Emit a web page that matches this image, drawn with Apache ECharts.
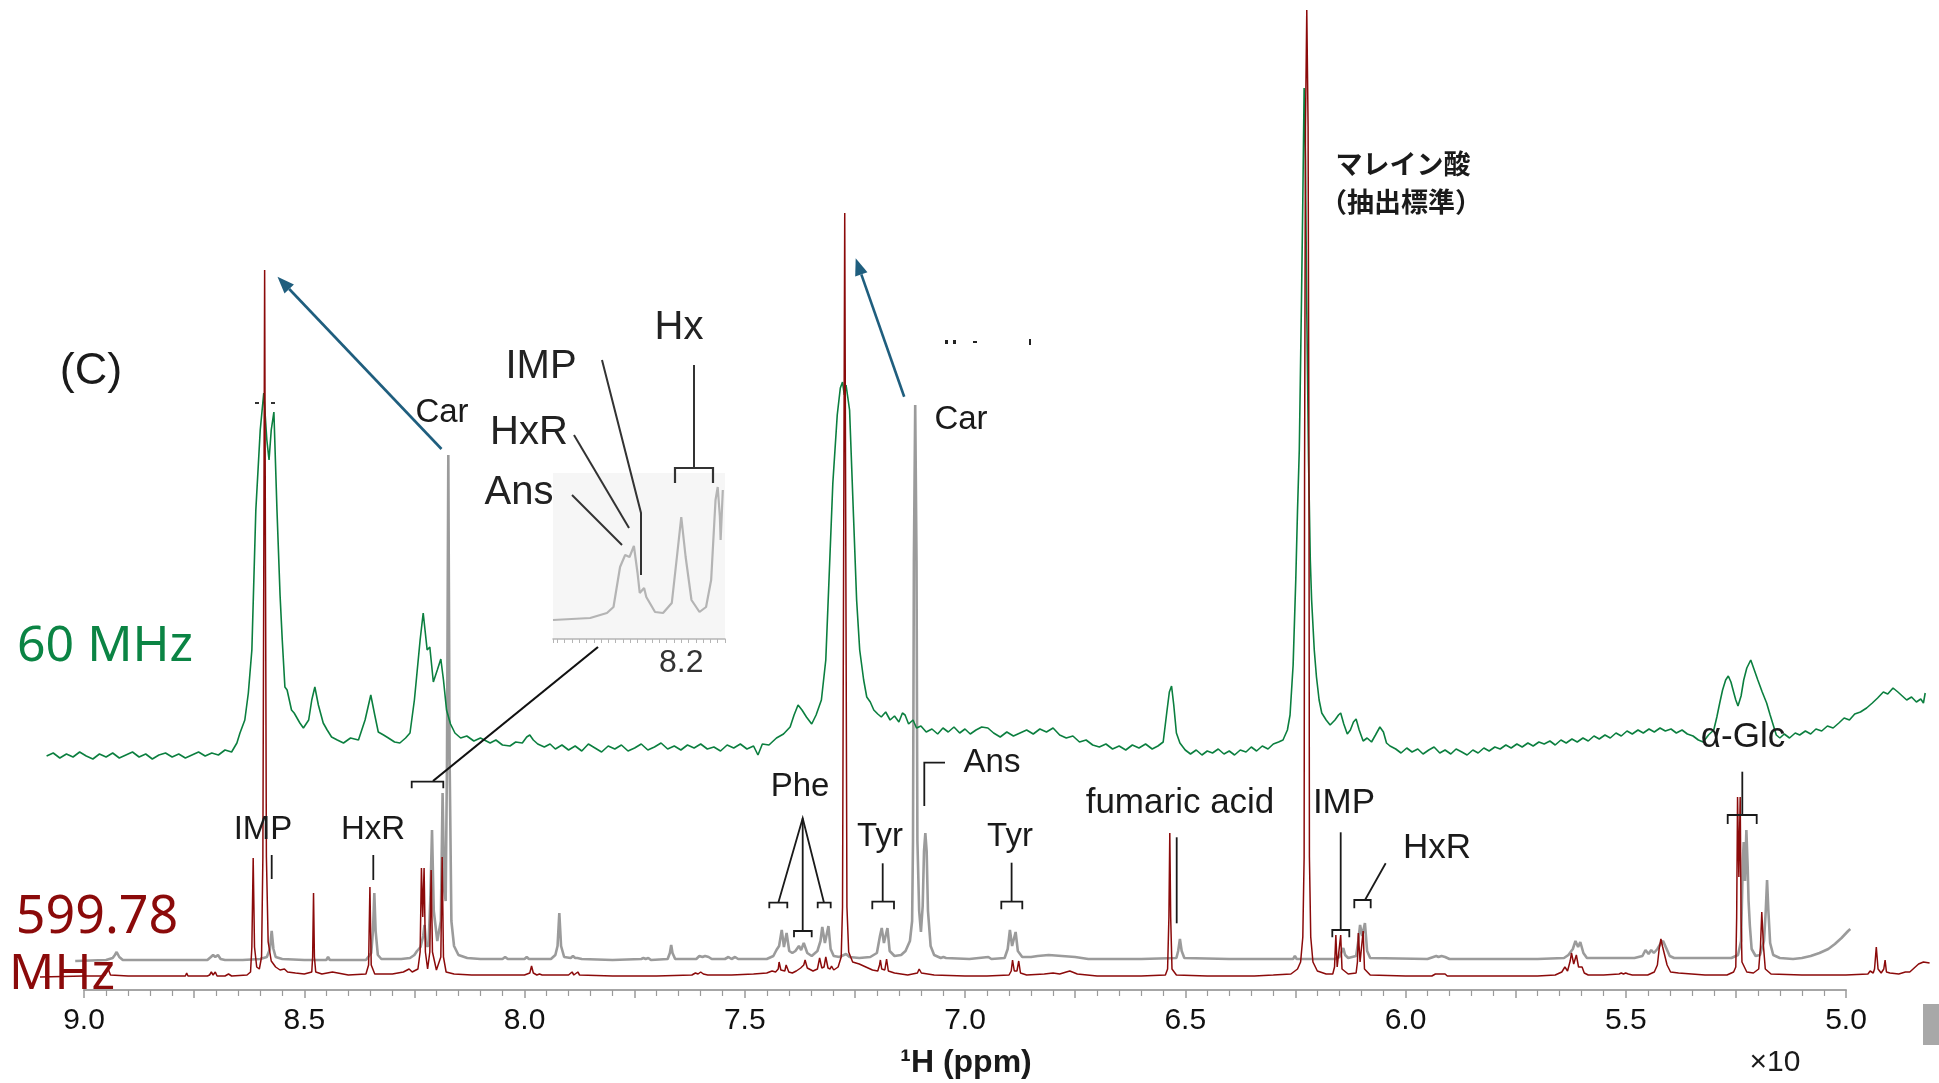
<!DOCTYPE html>
<html><head><meta charset="utf-8">
<script src="https://cdn.jsdelivr.net/npm/echarts@6/dist/echarts.min.js"></script>
<style>html,body{margin:0;padding:0;background:#fff}#c{width:1939px;height:1083px}</style>
</head><body><div id="c"></div>
<script>
// ---- data (ppm, intensity above each trace's own baseline) ----
const xTickLabels = ['9.0','8.5','8.0','7.5','7.0','6.5','6.0','5.5','5.0'];
const redSpectrum = [[9.100,0],[9.000,1],[8.960,1],[8.952,2],[8.946,9],[8.940,2],[8.900,1],[8.800,1],[8.770,1],[8.767,4],[8.764,1],[8.720,1],[8.715,2],[8.711,5],[8.707,2],[8.702,5],[8.698,1],[8.680,1],[8.672,3],[8.665,1],[8.630,2],[8.622,5],[8.619,30],[8.616,119],[8.613,30],[8.608,10],[8.602,8],[8.597,20],[8.594,120],[8.592,400],[8.590,707],[8.588,400],[8.586,120],[8.582,35],[8.575,16],[8.565,10],[8.555,7],[8.545,8],[8.538,5],[8.520,4],[8.500,3],[8.483,5],[8.481,20],[8.479,84],[8.477,20],[8.474,5],[8.460,3],[8.436,5],[8.432,3],[8.400,2],[8.360,3],[8.354,12],[8.351,90],[8.348,12],[8.340,3],[8.300,3],[8.275,5],[8.262,8],[8.255,5],[8.242,8],[8.237,25],[8.234,109],[8.231,60],[8.228,109],[8.225,25],[8.220,8],[8.215,25],[8.212,107],[8.209,25],[8.200,7],[8.190,20],[8.187,120],[8.184,20],[8.178,5],[8.160,3],[8.120,2],[8.060,2],[8.000,2],[7.988,4],[7.984,11],[7.980,4],[7.972,2],[7.966,3],[7.960,2],[7.900,2],[7.892,5],[7.888,2],[7.879,5],[7.875,2],[7.800,1],[7.700,1],[7.620,2],[7.612,4],[7.606,3],[7.600,5],[7.594,3],[7.590,4],[7.584,2],[7.530,2],[7.480,3],[7.450,4],[7.438,6],[7.435,8],[7.430,5],[7.424,8],[7.422,15],[7.418,7],[7.409,6],[7.406,12],[7.400,5],[7.392,4],[7.383,6],[7.380,8],[7.373,9],[7.366,12],[7.363,17],[7.358,9],[7.345,6],[7.335,8],[7.330,19],[7.325,9],[7.320,10],[7.316,20],[7.311,9],[7.306,8],[7.303,11],[7.298,7],[7.288,10],[7.281,20],[7.278,70],[7.276,350],[7.273,764],[7.270,350],[7.268,70],[7.264,25],[7.255,15],[7.240,13],[7.225,10],[7.210,7],[7.198,6],[7.194,12],[7.192,17],[7.189,8],[7.182,7],[7.178,18],[7.174,6],[7.160,4],[7.130,2],[7.108,4],[7.104,8],[7.099,4],[7.070,2],[7.000,1],[6.950,1],[6.900,2],[6.895,6],[6.892,17],[6.888,6],[6.882,6],[6.878,16],[6.874,4],[6.860,2],[6.820,3],[6.800,4],[6.785,3],[6.770,5],[6.762,6],[6.745,3],[6.700,1],[6.600,1],[6.545,2],[6.540,8],[6.537,60],[6.535,144],[6.533,60],[6.530,8],[6.520,2],[6.450,1],[6.366,1],[6.364,3],[6.361,1],[6.348,1],[6.346,3],[6.343,1],[6.300,2],[6.260,3],[6.245,8],[6.238,15],[6.233,40],[6.230,120],[6.229,500],[6.227,850],[6.224,967],[6.221,850],[6.219,500],[6.218,120],[6.215,40],[6.210,15],[6.200,6],[6.180,3],[6.165,3],[6.161,10],[6.158,42],[6.155,10],[6.151,10],[6.147,42],[6.144,8],[6.130,3],[6.112,4],[6.109,15],[6.107,44],[6.103,15],[6.099,16],[6.096,46],[6.093,8],[6.080,2],[6.000,1],[5.940,1],[5.932,3],[5.928,1],[5.922,3],[5.918,1],[5.910,3],[5.905,1],[5.800,1],[5.700,1],[5.660,2],[5.645,5],[5.638,10],[5.632,6],[5.626,16],[5.623,24],[5.618,13],[5.612,22],[5.607,10],[5.603,8],[5.599,10],[5.594,4],[5.585,2],[5.550,2],[5.515,3],[5.510,4],[5.505,3],[5.500,4],[5.494,3],[5.490,4],[5.485,2],[5.450,2],[5.435,5],[5.428,12],[5.424,28],[5.420,38],[5.416,30],[5.412,29],[5.406,12],[5.398,5],[5.380,4],[5.320,2],[5.270,2],[5.255,5],[5.250,10],[5.248,60],[5.246,180],[5.243,100],[5.240,180],[5.238,60],[5.236,15],[5.225,5],[5.210,4],[5.198,8],[5.194,30],[5.191,65],[5.187,30],[5.183,8],[5.170,3],[5.100,2],[5.000,2],[4.950,3],[4.945,6],[4.942,8],[4.938,4],[4.935,8],[4.931,30],[4.927,8],[4.920,4],[4.914,8],[4.911,17],[4.908,5],[4.900,4],[4.880,3],[4.865,5],[4.855,5],[4.845,9],[4.835,13],[4.824,15],[4.810,14]];
const graySpectrum = [[9.020,0],[8.950,1],[8.935,3],[8.930,6],[8.926,9],[8.920,4],[8.912,1],[8.800,1],[8.720,1],[8.712,4],[8.707,6],[8.702,4],[8.696,6],[8.690,2],[8.680,1],[8.640,1],[8.600,2],[8.585,4],[8.578,12],[8.574,30],[8.570,12],[8.565,4],[8.550,2],[8.500,1],[8.450,1],[8.446,4],[8.442,1],[8.360,1],[8.348,8],[8.344,30],[8.341,68],[8.338,30],[8.333,6],[8.325,2],[8.280,2],[8.260,3],[8.250,6],[8.244,10],[8.236,14],[8.230,25],[8.227,36],[8.223,15],[8.218,15],[8.214,60],[8.210,131],[8.206,50],[8.198,20],[8.190,40],[8.186,168],[8.182,70],[8.179,60],[8.176,200],[8.173,506],[8.170,200],[8.166,40],[8.160,15],[8.150,6],[8.130,3],[8.100,2],[8.050,2],[8.044,4],[8.038,2],[8.000,2],[7.995,4],[7.990,2],[7.940,2],[7.930,6],[7.925,15],[7.921,48],[7.917,15],[7.910,4],[7.895,3],[7.890,5],[7.885,3],[7.880,3],[7.876,5],[7.870,2],[7.800,1],[7.735,2],[7.730,3],[7.725,2],[7.719,3],[7.713,1],[7.675,2],[7.670,8],[7.667,16],[7.664,8],[7.658,2],[7.610,2],[7.603,5],[7.596,4],[7.590,5],[7.582,4],[7.575,2],[7.545,2],[7.537,4],[7.530,2],[7.522,4],[7.515,2],[7.450,2],[7.435,5],[7.428,11],[7.422,15],[7.416,31],[7.411,14],[7.405,28],[7.399,10],[7.392,8],[7.385,10],[7.377,15],[7.372,11],[7.366,18],[7.358,8],[7.348,5],[7.335,10],[7.328,20],[7.324,34],[7.318,18],[7.310,35],[7.305,12],[7.298,5],[7.285,4],[7.270,7],[7.262,4],[7.240,3],[7.215,4],[7.200,8],[7.193,25],[7.189,33],[7.184,18],[7.180,20],[7.176,33],[7.171,10],[7.160,5],[7.145,6],[7.135,10],[7.125,20],[7.120,40],[7.118,120],[7.116,400],[7.113,556],[7.110,400],[7.108,120],[7.104,50],[7.100,29],[7.096,55],[7.093,110],[7.090,128],[7.087,110],[7.084,50],[7.078,15],[7.070,6],[7.055,3],[7.049,4],[7.043,3],[6.990,2],[6.947,4],[6.940,2],[6.910,3],[6.903,12],[6.898,31],[6.893,15],[6.890,14],[6.885,29],[6.880,10],[6.870,4],[6.850,4],[6.835,5],[6.810,6],[6.780,5],[6.750,4],[6.720,2],[6.600,2],[6.520,3],[6.516,10],[6.512,22],[6.508,10],[6.502,3],[6.400,2],[6.255,2],[6.251,5],[6.247,2],[6.160,2],[6.150,4],[6.145,9],[6.141,13],[6.137,6],[6.130,3],[6.112,5],[6.107,20],[6.103,36],[6.098,25],[6.092,38],[6.087,10],[6.080,3],[5.950,2],[5.930,5],[5.925,4],[5.918,5],[5.910,4],[5.900,2],[5.700,2],[5.640,3],[5.630,6],[5.626,8],[5.620,12],[5.614,20],[5.608,14],[5.603,19],[5.596,8],[5.588,3],[5.480,3],[5.462,5],[5.455,11],[5.448,7],[5.442,11],[5.436,8],[5.428,12],[5.420,18],[5.415,20],[5.409,14],[5.400,5],[5.390,3],[5.340,3],[5.320,3],[5.260,3],[5.245,6],[5.238,20],[5.234,100],[5.232,119],[5.229,80],[5.226,131],[5.223,94],[5.221,60],[5.218,35],[5.214,12],[5.205,5],[5.195,6],[5.186,20],[5.182,50],[5.179,81],[5.176,50],[5.172,18],[5.165,6],[5.150,3],[5.120,2],[5.100,3],[5.080,5],[5.060,8],[5.040,12],[5.025,17],[5.010,23],[4.995,30],[4.990,32]];
const greenSpectrum = [[9.085,4],[9.070,7],[9.055,2],[9.040,6],[9.025,3],[9.010,8],[8.995,4],[8.980,1],[8.965,6],[8.950,3],[8.935,7],[8.920,2],[8.905,5],[8.890,8],[8.875,3],[8.860,6],[8.845,1],[8.830,5],[8.815,7],[8.800,3],[8.785,6],[8.770,2],[8.755,5],[8.740,8],[8.725,4],[8.710,7],[8.695,5],[8.680,10],[8.665,8],[8.653,17],[8.646,27],[8.635,40],[8.627,67],[8.619,110],[8.610,250],[8.600,330],[8.592,367],[8.585,320],[8.580,300],[8.575,330],[8.569,348],[8.562,250],[8.555,165],[8.550,120],[8.544,73],[8.539,70],[8.529,50],[8.523,47],[8.510,37],[8.502,32],[8.490,40],[8.483,60],[8.476,73],[8.468,55],[8.457,37],[8.448,30],[8.438,23],[8.425,20],[8.411,17],[8.395,22],[8.377,20],[8.362,40],[8.349,65],[8.340,45],[8.332,28],[8.320,25],[8.309,22],[8.295,18],[8.283,17],[8.270,22],[8.260,27],[8.250,60],[8.245,83],[8.237,120],[8.230,147],[8.221,110],[8.215,113],[8.207,78],[8.198,90],[8.190,101],[8.184,80],[8.177,50],[8.168,36],[8.158,27],[8.145,22],[8.131,24],[8.115,19],[8.100,22],[8.078,17],[8.065,20],[8.050,15],[8.033,14],[8.020,18],[8.005,17],[7.995,23],[7.988,25],[7.980,20],[7.970,16],[7.955,13],[7.942,16],[7.930,11],[7.915,15],[7.900,10],[7.885,14],[7.870,9],[7.855,16],[7.840,12],[7.825,8],[7.810,14],[7.795,11],[7.780,15],[7.765,9],[7.750,12],[7.735,16],[7.720,10],[7.705,13],[7.690,17],[7.675,11],[7.660,14],[7.645,10],[7.630,15],[7.615,12],[7.600,16],[7.585,11],[7.570,13],[7.555,9],[7.540,15],[7.525,12],[7.510,16],[7.495,11],[7.480,14],[7.470,5],[7.460,16],[7.445,15],[7.428,22],[7.412,26],[7.397,33],[7.388,45],[7.379,55],[7.370,50],[7.360,43],[7.348,36],[7.338,45],[7.326,60],[7.316,100],[7.309,177],[7.300,277],[7.290,345],[7.283,372],[7.278,378],[7.274,365],[7.270,375],[7.262,350],[7.253,243],[7.246,160],[7.239,110],[7.230,80],[7.223,63],[7.215,58],[7.207,50],[7.198,46],[7.190,43],[7.180,48],[7.170,40],[7.160,44],[7.150,38],[7.142,47],[7.136,45],[7.128,36],[7.118,40],[7.110,32],[7.100,34],[7.088,28],[7.075,31],[7.062,26],[7.050,32],[7.038,28],[7.025,33],[7.012,27],[7.000,31],[6.988,26],[6.975,30],[6.962,33],[6.948,32],[6.935,27],[6.920,23],[6.905,28],[6.890,24],[6.875,27],[6.860,30],[6.845,26],[6.830,31],[6.815,28],[6.800,32],[6.785,25],[6.770,22],[6.755,24],[6.740,18],[6.725,20],[6.710,15],[6.695,13],[6.680,16],[6.665,11],[6.650,14],[6.635,10],[6.620,15],[6.605,12],[6.590,16],[6.575,11],[6.562,14],[6.550,18],[6.542,47],[6.536,68],[6.531,74],[6.526,55],[6.520,27],[6.512,17],[6.500,10],[6.488,6],[6.475,10],[6.462,5],[6.450,9],[6.438,7],[6.425,11],[6.412,6],[6.400,9],[6.388,5],[6.375,10],[6.362,8],[6.350,13],[6.338,9],[6.325,14],[6.312,11],[6.300,16],[6.288,18],[6.278,20],[6.268,30],[6.262,45],[6.255,95],[6.249,180],[6.245,250],[6.241,310],[6.236,460],[6.233,560],[6.230,672],[6.227,600],[6.224,450],[6.220,300],[6.216,200],[6.213,160],[6.207,110],[6.202,83],[6.196,60],[6.190,47],[6.180,40],[6.171,35],[6.160,40],[6.152,45],[6.147,47],[6.140,36],[6.132,26],[6.125,30],[6.118,38],[6.112,41],[6.105,30],[6.096,19],[6.087,22],[6.077,18],[6.068,25],[6.058,33],[6.050,28],[6.043,17],[6.035,14],[6.022,11],[6.010,7],[5.997,12],[5.985,8],[5.972,11],[5.960,6],[5.947,10],[5.935,13],[5.922,7],[5.910,10],[5.897,6],[5.885,11],[5.872,8],[5.860,5],[5.847,10],[5.835,7],[5.822,12],[5.810,9],[5.797,13],[5.785,11],[5.772,15],[5.760,12],[5.747,16],[5.735,13],[5.722,17],[5.710,14],[5.697,18],[5.685,16],[5.672,19],[5.660,15],[5.647,20],[5.635,17],[5.622,21],[5.610,18],[5.597,22],[5.585,19],[5.572,24],[5.560,21],[5.547,25],[5.535,22],[5.522,27],[5.510,24],[5.497,29],[5.485,26],[5.472,30],[5.460,27],[5.447,31],[5.435,28],[5.422,32],[5.410,29],[5.397,31],[5.385,27],[5.372,30],[5.360,26],[5.347,24],[5.335,20],[5.324,18],[5.312,25],[5.300,30],[5.293,43],[5.286,58],[5.280,70],[5.273,80],[5.267,84],[5.261,78],[5.255,68],[5.250,60],[5.245,54],[5.238,64],[5.232,80],[5.225,92],[5.216,100],[5.208,90],[5.200,80],[5.190,68],[5.180,57],[5.172,45],[5.165,35],[5.158,25],[5.150,22],[5.140,26],[5.128,22],[5.115,27],[5.105,25],[5.092,29],[5.080,26],[5.068,31],[5.055,29],[5.042,34],[5.029,32],[5.016,37],[5.004,42],[4.992,40],[4.980,46],[4.967,48],[4.953,52],[4.940,57],[4.928,62],[4.915,68],[4.905,66],[4.893,72],[4.882,68],[4.872,64],[4.862,60],[4.851,63],[4.840,58],[4.830,61],[4.824,57],[4.820,67]];
const insetSpectrum = [[8.376,19],[8.325,21],[8.302,26],[8.293,32],[8.284,72],[8.277,84],[8.271,82],[8.265,93],[8.260,66],[8.257,46],[8.251,51],[8.248,42],[8.236,27],[8.225,26],[8.213,36],[8.206,82],[8.200,122],[8.194,82],[8.186,39],[8.175,27],[8.166,32],[8.159,59],[8.153,139],[8.150,152],[8.147,122],[8.146,99],[8.143,149]];
const insetTickLabel = '8.2';

const chart = echarts.init(document.getElementById('c'), null, {renderer:'canvas'});
const F = 'Liberation Sans, Arial, sans-serif';
const ink = '#1a1a1a';
function tx(x,y,s,font,color){return {type:'text',z:100,style:{x:x,y:y,text:s,font:font,fill:color||ink,textAlign:'center',textVerticalAlign:'middle'}};}
function txt(x,y,s,size){return tx(x,y,s,size+'px '+F);}
function ln(pts,color,w){return {type:'polyline',z:100,shape:{points:pts},style:{stroke:color||'#1a1a1a',lineWidth:w||1.8,fill:null}};}
function bracketDown(x1,x2,y,leg){return ln([[x1,y+leg],[x1,y],[x2,y],[x2,y+leg]]);}
function arrow(x1,y1,x2,y2,color){
  const dx=x2-x1,dy=y2-y1,L=Math.hypot(dx,dy),ux=dx/L,uy=dy/L,h=17,w=6.5;
  const bx=x2-ux*h,by=y2-uy*h,px=-uy,py=ux;
  return [ln([[x1,y1],[bx,by]],color,2.6),
    {type:'polygon',z:100,shape:{points:[[x2,y2],[bx+px*w,by+py*w],[bx-px*w,by-py*w]]},style:{fill:color}}];
}
const blue='#1f5e7e';
const NS='Noto Sans, sans-serif';
const graphics = [
  txt(91,372,'(C)',45),
  tx(105,647,'60 MHz','50px '+NS,'#0b8444'),
  tx(97,918,'599.78','52px '+NS,'#8b0a0a'),
  tx(62,975,'MHz','50px '+NS,'#8b0a0a'),
  tx(1403,164,'マレイン酸','bold 27px "Noto Sans CJK JP", sans-serif'),
  tx(1401,202,'（抽出標準）','bold 27px "Noto Sans CJK JP", sans-serif'),
  txt(442,413,'Car',33), txt(961,420,'Car',33),
  ...arrow(441.5,449,277.5,276.7,blue),
  ...arrow(904.2,396.7,855.7,258.3,blue),
  // inset annotations
  tx(541,367,'IMP','40px '+F,'#222'),
  tx(529,433,'HxR','40px '+F,'#222'),
  tx(519,493,'Ans','40px '+F,'#222'),
  tx(679,328,'Hx','40px '+F,'#222'),
  ln([[602,360],[641,513],[641,575]],'#333',2),
  ln([[574,435],[629,528]],'#333',2),
  ln([[572,495],[622,545]],'#333',2),
  ln([[694,365],[694,468]],'#333',2),
  ln([[675,483],[675,468],[713,468],[713,483]],'#333',2.2),
  // connector from inset to 8.2 region
  ln([[598,647],[433,781]],'#111',2.2),
  bracketDown(411.7,443.3,781.7,6.6),
  // lower labels
  txt(263,830,'IMP',33), ln([[271.7,855],[271.7,879]]),
  txt(373,830,'HxR',33), ln([[373.3,855],[373.3,880]]),
  txt(800,787,'Phe',33),
  ln([[778.3,902.7],[802.7,818.3],[824,902.7]]), ln([[802.7,818.3],[802.7,931]]),
  bracketDown(769.3,787.3,902.7,5.6), bracketDown(794,811.7,931,6.3), bracketDown(817.7,830.7,902.7,5.6),
  txt(880,837,'Tyr',33), ln([[882.7,863.3],[882.7,901.7]]), bracketDown(872.3,894,901.7,7.6),
  txt(992,763,'Ans',33), ln([[945,762.7],[924.3,762.7],[924.3,806]]),
  txt(1010,837,'Tyr',33), ln([[1011.6,862.7],[1011.6,901.7]]), bracketDown(1001.3,1022.3,901.7,7.6),
  txt(1180,803,'fumaric acid',35), ln([[1176.7,837.3],[1176.7,923.3]]),
  txt(1344,803,'IMP',35), ln([[1340.7,832.3],[1340.7,930]]), bracketDown(1332.3,1349.3,930,7.3),
  txt(1437,848,'HxR',35), ln([[1385.7,863.3],[1365,900]]), bracketDown(1354.3,1370.7,900,8.3),
  txt(1743,737,'α-Glc',35), ln([[1742.3,771.7],[1742.3,815]]), bracketDown(1727.7,1756.7,815,9),
  // axis title and scale note
  tx(966,1063,'¹H (ppm)','bold 32px '+F),
  txt(1775,1063,'×10',30),
  {type:'rect',z:100,shape:{x:1923,y:1004,width:16,height:41},style:{fill:'#a8a8a8'}},
  // small clipped fragments
  {type:'rect',z:100,shape:{x:255,y:402,width:4,height:2},style:{fill:'#333'}},
  {type:'rect',z:100,shape:{x:271,y:402,width:4,height:2},style:{fill:'#333'}},
  {type:'rect',z:100,shape:{x:945,y:340,width:3,height:4},style:{fill:'#222'}},
  {type:'rect',z:100,shape:{x:953,y:340,width:3,height:4},style:{fill:'#222'}},
  {type:'rect',z:100,shape:{x:973,y:341,width:4,height:2},style:{fill:'#222'}},
  {type:'rect',z:100,shape:{x:1029,y:339,width:2,height:6},style:{fill:'#222'}}
];

const option = {
  animation:false,
  backgroundColor:'#ffffff',
  grid:[
    {left:84,top:0,width:1762,height:990,show:false},
    {left:40,top:0,width:1894,height:990,show:false},
    {left:553,top:473,width:172,height:166,show:true,backgroundColor:'#f6f6f6',borderWidth:0}
  ],
  xAxis:[
    {gridIndex:0,type:'value',min:5.0,max:9.0,inverse:true,interval:0.25,
     axisLine:{show:true,lineStyle:{color:'#a6a6a6',width:2}},
     axisTick:{show:true,length:8,lineStyle:{color:'#9a9a9a',width:1.5}},
     minorTick:{show:true,splitNumber:5,length:6,lineStyle:{color:'#9a9a9a',width:1.2}},
     splitLine:{show:false},
     axisLabel:{margin:16,fontSize:30,fontFamily:F,color:'#111',
       formatter:function(v){const s=(Math.round(v*10)/10).toFixed(1);return (Math.abs(v*2-Math.round(v*2))<1e-6 && xTickLabels.indexOf(s)>=0)?s:'';}}},
    {gridIndex:1,type:'value',min:4.8,max:9.1,inverse:true,show:false},
    {gridIndex:2,type:'value',min:8.14,max:8.376,inverse:true,interval:0.01,
     axisLine:{show:true,lineStyle:{color:'#b5b5b5',width:1.5}},
     axisTick:{show:true,length:4,lineStyle:{color:'#b5b5b5'}},
     splitLine:{show:false},
     axisLabel:{margin:8,fontSize:32,fontFamily:F,color:'#333',
       formatter:function(v){return Math.abs(v-8.2)<1e-6?insetTickLabel:'';}}}
  ],
  yAxis:[
    {gridIndex:0,type:'value',min:0,max:1,show:false},
    {gridIndex:1,type:'value',min:-13,max:977,show:false},
    {gridIndex:1,type:'value',min:-29,max:961,show:false},
    {gridIndex:1,type:'value',min:-230,max:760,show:false},
    {gridIndex:2,type:'value',min:0,max:166,show:false}
  ],
  series:[
    {type:'line',xAxisIndex:0,yAxisIndex:0,data:[],symbol:'none'},
    {name:'600 MHz standard',type:'line',xAxisIndex:1,yAxisIndex:2,data:graySpectrum,symbol:'none',z:2,
     lineStyle:{color:'#9b9b9b',width:2.6},silent:true},
    {name:'60 MHz',type:'line',xAxisIndex:1,yAxisIndex:3,data:greenSpectrum,symbol:'none',z:3,
     lineStyle:{color:'#0b7f3f',width:1.6},silent:true},
    {name:'599.78 MHz',type:'line',xAxisIndex:1,yAxisIndex:1,data:redSpectrum,symbol:'none',z:4,
     lineStyle:{color:'#8b0a0a',width:1.5},silent:true},
    {name:'inset',type:'line',xAxisIndex:2,yAxisIndex:4,data:insetSpectrum,symbol:'none',z:2,
     lineStyle:{color:'#b4b4b4',width:2.2},silent:true}
  ],
  graphic:graphics
};
chart.setOption(option);
</script></body></html>
